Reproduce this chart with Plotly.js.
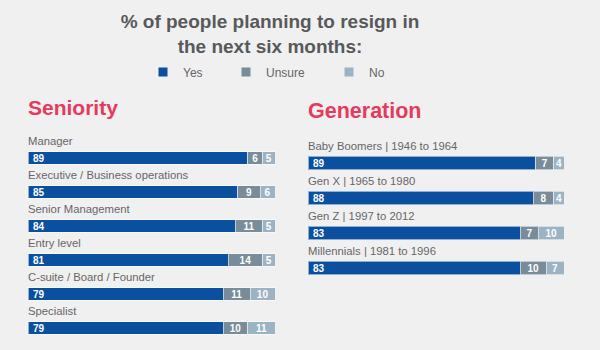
<!DOCTYPE html>
<html>
<head>
<meta charset="utf-8">
<script src="https://cdn.plot.ly/plotly-3.0.1.min.js"></script>
<style>
  html, body { margin: 0; padding: 0; background: #f0f0f1; }
  #chart { width: 600px; height: 350px; }
</style>
</head>
<body>
<div id="chart"></div>
<script>
const seriesNames = ['Yes', 'Unsure', 'No'];
const seriesColors = ['#0b4f9f', '#798c99', '#9cb3c4'];

const seniorityCats = ['Manager', 'Executive / Business operations', 'Senior Management', 'Entry level', 'C-suite / Board / Founder', 'Specialist'];
const seniorityYes = [89, 85, 84, 81, 79, 79];
const seniorityUnsure = [6, 9, 11, 14, 11, 10];
const seniorityNo = [5, 6, 5, 5, 10, 11];

const generationCats = ['Baby Boomers | 1946 to 1964', 'Gen X | 1965 to 1980', 'Gen Z | 1997 to 2012', 'Millennials | 1981 to 1996'];
const generationYes = [89, 88, 83, 83];
const generationUnsure = [7, 8, 7, 10];
const generationNo = [4, 4, 10, 7];

const FONT = 'Liberation Sans, Arial, Helvetica, sans-serif';

function barTrace(name, idx, vals, cats, xa, ya) {
  return {
    type: 'bar', orientation: 'h', name: name,
    x: vals, y: cats, xaxis: xa, yaxis: ya,
    width: 0.38,
    marker: { color: seriesColors[idx], line: { color: 'rgba(255,255,255,0.55)', width: 1 } },
    text: vals.map(v => (idx === 0 ? '\u2009' : '') + v),
    textposition: 'inside',
    textangle: 0,
    insidetextanchor: idx === 0 ? 'start' : 'middle',
    constraintext: 'none',
    textfont: { family: FONT, size: 10, color: '#ffffff', weight: 'bold' },
    hoverinfo: 'skip',
    showlegend: false
  };
}

const data = [];
const leftSeries = [seniorityYes, seniorityUnsure, seniorityNo];
const rightSeries = [generationYes, generationUnsure, generationNo];
seriesNames.forEach((n, i) => data.push(barTrace(n, i, leftSeries[i], seniorityCats, 'x', 'y')));
seriesNames.forEach((n, i) => data.push(barTrace(n, i, rightSeries[i], generationCats, 'x2', 'y2')));

// legend entries
const legendIds = ['legend', 'legend2', 'legend3'];
seriesNames.forEach((n, i) => data.push({
  type: 'scatter', mode: 'markers', name: n, x: [null], y: [null],
  xaxis: 'x', yaxis: 'y',
  marker: { symbol: 'square', size: 9, color: seriesColors[i] },
  legend: legendIds[i], showlegend: true, hoverinfo: 'skip'
}));

const annotations = [];
seniorityCats.forEach(c => annotations.push({
  text: c, xref: 'x', yref: 'y', x: 0, y: c, xanchor: 'left', yanchor: 'middle',
  yshift: 17, xshift: -2, showarrow: false,
  font: { family: FONT, size: 11.3, color: '#666666' }
}));
generationCats.forEach(c => annotations.push({
  text: c, xref: 'x2', yref: 'y2', x: 0, y: c, xanchor: 'left', yanchor: 'middle',
  yshift: 17, xshift: -2, showarrow: false,
  font: { family: FONT, size: 11.3, color: '#666666' }
}));
annotations.push({
  text: 'Seniority', xref: 'paper', yref: 'paper', x: 26 / 600, y: 1 - 108 / 350,
  xanchor: 'left', yanchor: 'middle', showarrow: false,
  font: { family: FONT, size: 21, color: '#e63a5c', weight: 'bold' }
});
annotations.push({
  text: 'Generation', xref: 'paper', yref: 'paper', x: 306 / 600, y: 1 - 111 / 350,
  xanchor: 'left', yanchor: 'middle', showarrow: false,
  font: { family: FONT, size: 21.5, color: '#e63a5c', weight: 'bold' }
});

const hiddenAxis = { showgrid: false, zeroline: false, showticklabels: false, showline: false, ticks: '', fixedrange: true };

function legendAt(x) {
  return {
    x: x / 600, xanchor: 'left', y: 1 - 72 / 350, yanchor: 'middle',
    bgcolor: 'rgba(0,0,0,0)', borderwidth: 0,
    font: { family: FONT, size: 12, color: '#666666' }
  };
}

const layout = {
  width: 600, height: 350,
  margin: { l: 0, r: 0, t: 0, b: 0 },
  paper_bgcolor: '#f0f0f1', plot_bgcolor: '#f0f0f1',
  barmode: 'stack',
  title: {
    text: '% of people planning to resign in<br>the next six months:',
    x: 0.45, xanchor: 'center', xref: 'paper',
    y: 1 - 28 / 350, yanchor: 'top', yref: 'container',
    font: { family: FONT, size: 19, color: '#58595b', weight: 'bold' }
  },
  xaxis: Object.assign({}, hiddenAxis, { domain: [28 / 600, 275 / 600], range: [0, 100], anchor: 'y' }),
  yaxis: Object.assign({}, hiddenAxis, { domain: [5 / 350, 209 / 350], type: 'category', categoryorder: 'array', categoryarray: seniorityCats, range: [5.5, -0.5], anchor: 'x' }),
  xaxis2: Object.assign({}, hiddenAxis, { domain: [308 / 600, 564 / 600], range: [0, 100], anchor: 'y2' }),
  yaxis2: Object.assign({}, hiddenAxis, { domain: [64.5 / 350, 204.5 / 350], type: 'category', categoryorder: 'array', categoryarray: generationCats, range: [3.5, -0.5], anchor: 'x2' }),
  legend: legendAt(143),
  legend2: legendAt(226),
  legend3: legendAt(329),
  annotations: annotations
};

Plotly.newPlot('chart', data, layout, { displayModeBar: false, staticPlot: true });
</script>
</body>
</html>
